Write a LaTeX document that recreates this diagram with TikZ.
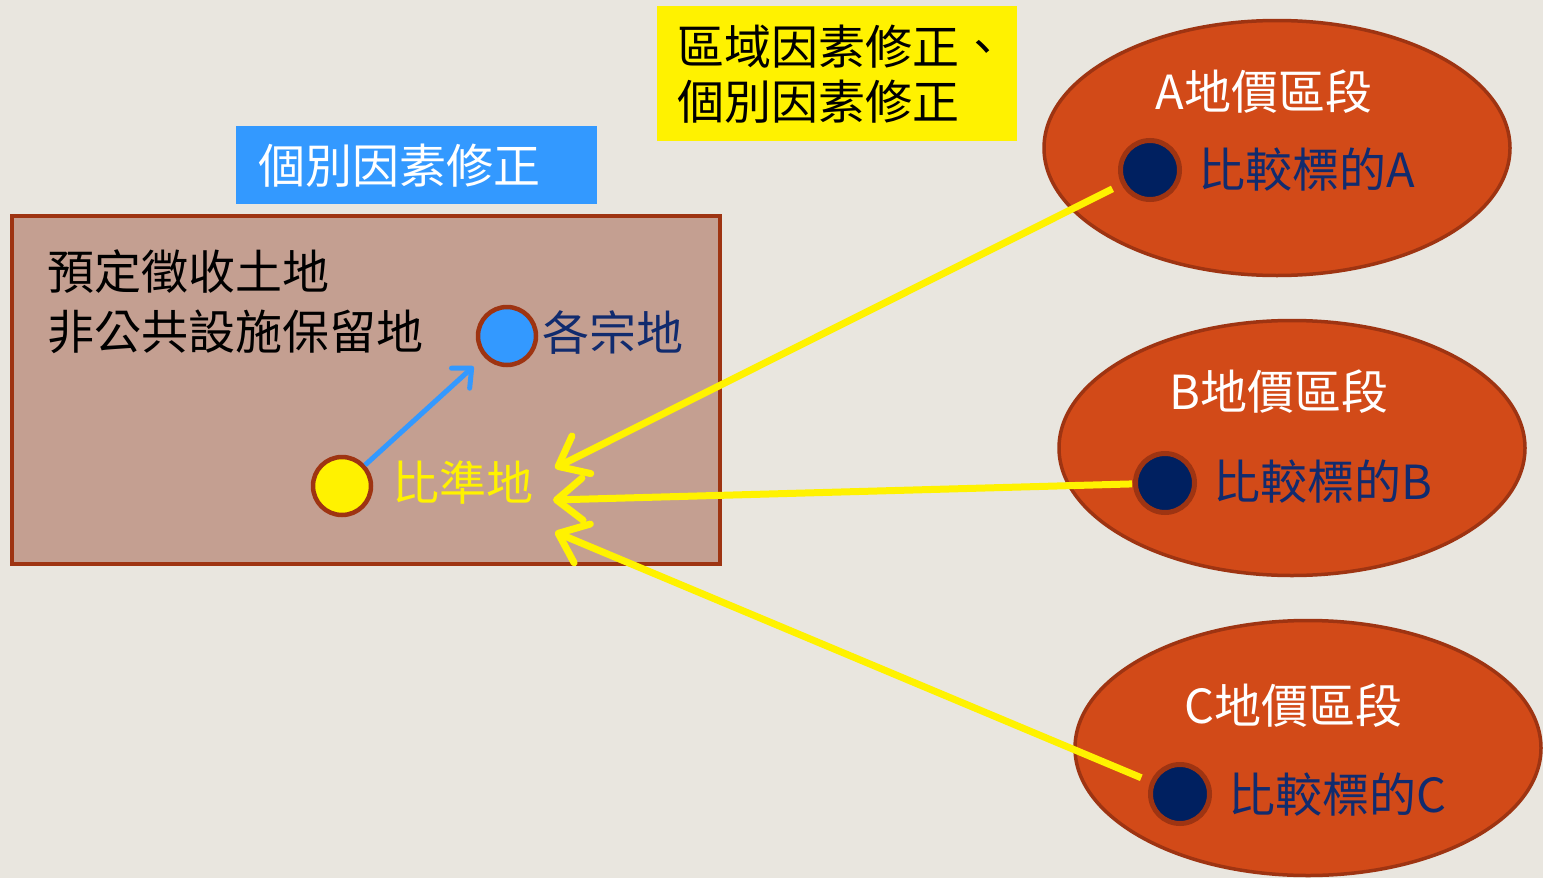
\documentclass[tikz,border=0pt]{standalone}
\usepackage{fontspec}
\newfontfamily\cjkf{Noto Sans CJK TC}
\usetikzlibrary{arrows.meta,shapes.geometric}
\definecolor{bg}{RGB}{233,230,223}
\definecolor{rectfill}{RGB}{196,159,145}
\definecolor{brownline}{RGB}{158,52,18}
\definecolor{skyblue}{RGB}{51,153,255}
\definecolor{orangefill}{RGB}{210,74,24}
\definecolor{navy}{RGB}{0,32,96}
\definecolor{navytext}{RGB}{17,43,110}
\tikzset{
  txt/.style={font=\cjkf\fontsize{47}{55}\selectfont, inner sep=0pt},
  zone/.style={ellipse, draw=brownline, fill=orangefill, line width=3.5pt, minimum width=466pt, minimum height=255pt, inner sep=0pt},
  dot/.style={circle, draw=brownline, line width=5pt, fill=navy, minimum size=59pt, inner sep=0pt},
  spot/.style={circle, draw=brownline, line width=4.5pt, minimum size=58pt, inner sep=0pt},
  yarrow/.style={draw=yellow, line width=7pt, -{Straight Barb[length=26pt,width=42pt,round]}},
  barrow/.style={draw=skyblue, line width=5pt, -{Straight Barb[length=15pt,width=27pt,round]}}
}
\begin{document}
\begin{tikzpicture}[x=1pt,y=-1pt]
\fill[bg] (0,0) rectangle (1543,878);
\useasboundingbox (0,0) rectangle (1543,878);
% labels
\node[txt, fill=skyblue, text=white, anchor=north west, minimum width=361pt, minimum height=78pt, text width=317pt, inner xsep=22pt, align=left] (lbl1) at (236,126) {個別因素修正};
\node[txt, fill=yellow, text=black, anchor=north west, minimum width=360pt, minimum height=135pt, text width=320pt, inner xsep=20pt, align=left] (lbl2) at (657,6) {區域因素修正、\\個別因素修正};
% main rectangle
\node[draw=brownline, fill=rectfill, line width=3.5pt, minimum width=708pt, minimum height=348pt, anchor=north west, inner sep=0pt] (land) at (10,214) {};
\node[txt, anchor=west, align=left, font=\cjkf\fontsize{47}{60}\selectfont] (landtxt) at (47,302) {預定徵收土地\\非公共設施保留地};
\node[spot, fill=skyblue] (bc) at (507,336) {};
\node[txt, anchor=west, text=navytext] (bctxt) at (542,333) {各宗地};
\node[spot, fill=yellow] (yc) at (342,486) {};
\node[txt, anchor=west, text=yellow] (yctxt) at (392,483) {比準地};
\draw[barrow, shorten >=14pt] (yc) -- (bc);
% zones
\node[zone] (zA) at (1277,148) {};
\node[zone] (zB) at (1292,448) {};
\node[zone] (zC) at (1308,748) {};
\node[txt, text=white] (tA) at (1264,92) {A地價區段};
\node[txt, text=white] (tB) at (1279,392) {B地價區段};
\node[txt, text=white] (tC) at (1293,706) {C地價區段};
\node[dot] (dA) at (1150,170) {};
\node[dot] (dB) at (1165,483) {};
\node[dot] (dC) at (1180,794) {};
\node[txt, anchor=west, text=navytext] (lA) at (1198,170) {比較標的A};
\node[txt, anchor=west, text=navytext] (lB) at (1213,482) {比較標的B};
\node[txt, anchor=west, text=navytext] (lC) at (1228,795) {比較標的C};
% arrows
\coordinate (aA) at (555,468);
\coordinate (aB) at (553,500);
\coordinate (aC) at (555,532);
\draw[yarrow, shorten <=10pt] (dA) -- (aA);
\draw[yarrow, shorten <=1pt] (dB) -- (aB);
\draw[yarrow, shorten <=10pt] (dC) -- (aC);
\end{tikzpicture}
\end{document}
